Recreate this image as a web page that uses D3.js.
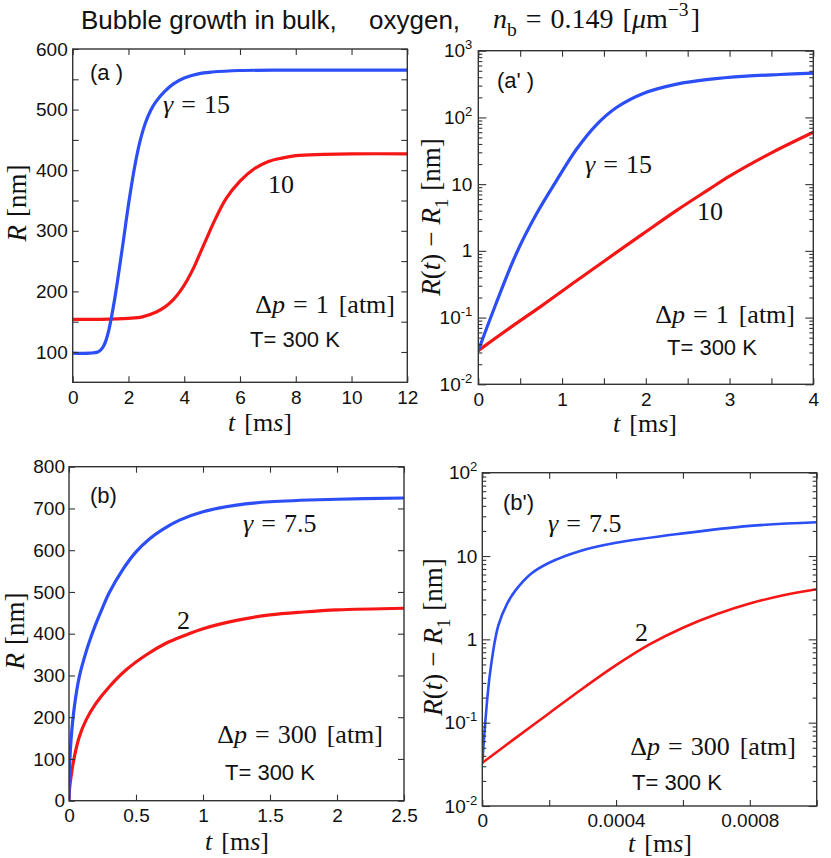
<!DOCTYPE html>
<html>
<head>
<meta charset="utf-8">
<script src="https://cdn.jsdelivr.net/npm/d3@7"></script>
<style>
  body { margin: 0; background: #fff; }
  svg { display: block; }
</style>
</head>
<body>
<svg id="fig" width="831" height="858"></svg>
<script>
const SANS = '"Liberation Sans", Arial, Helvetica, sans-serif';
const SERIF = '"Liberation Serif", "Times New Roman", serif';
const BLUE = "#2b4ef6";
const RED = "#f61616";
const FRAME = "#333";

// ---------- panel (a): R [nm] vs t [ms], dp = 1 atm ----------
const aBlueT = [0, 0.6, 0.9, 1.0, 1.1, 1.2, 1.3, 1.4, 1.5, 1.6, 1.8, 2.0, 2.2, 2.4, 2.6, 2.8, 3.0, 3.3, 3.6, 4.0, 4.5, 5.0, 6, 8, 12];
const aBlueR = [98, 98, 100, 103, 109, 120, 137, 160, 186, 215, 278, 343, 400, 445, 477, 499, 514, 530, 542, 552, 559, 562, 564.5, 565, 565];
const aRedT = [0, 1, 2, 2.5, 3.0, 3.3, 3.6, 3.85, 4.1, 4.35, 4.57, 4.8, 5.05, 5.5, 6.0, 6.5, 7.0, 7.5, 8, 9, 10, 12];
const aRedR = [154, 154, 155.5, 158, 166, 174, 186, 200, 218, 240, 263, 287, 313, 353, 382, 402, 414, 420, 424, 426, 427, 427];
const aXTicks = [0, 2, 4, 6, 8, 10, 12];
const aXText = ["0", "2", "4", "6", "8", "10", "12"];
const aYTicks = [100, 150, 200, 250, 300, 350, 400, 450, 500, 550, 600];
const aYText = ["100", "", "200", "", "300", "", "400", "", "500", "", "600"];

// ---------- panel (a'): R(t) - R1 [nm], log scale ----------
const apBlueT = [0, 0.21, 0.45, 0.69, 0.93, 1.17, 1.41, 1.65, 1.97, 2.37, 2.75, 3.2, 3.6, 4.0];
const apBlueV = [0.032, 0.16, 0.89, 3.5, 11.1, 33, 77.6, 141, 229, 316, 372, 415, 440, 462];
const apRedT = [0, 0.37, 0.76, 1.16, 1.56, 1.96, 2.36, 2.75, 3.0, 3.5, 4.0];
const apRedV = [0.032, 0.069, 0.151, 0.347, 0.79, 1.78, 3.98, 8.3, 13.2, 29.5, 60];
const apXTicks = [0, 0.5, 1, 1.5, 2, 2.5, 3, 3.5, 4];
const apXText = ["0", "", "1", "", "2", "", "3", "", "4"];
const apYTicks = [0.01, 0.1, 1, 10, 100, 1000];
const apYBase = ["10", "10", "1", "10", "10", "10"];
const apYExp = ["-2", "-1", "", "", "2", "3"];

// ---------- panel (b): R [nm] vs t [ms], dp = 300 atm ----------
const bBlueT = [0, 0.004, 0.015, 0.04, 0.077, 0.127, 0.164, 0.201, 0.25, 0.3, 0.4, 0.5, 0.6, 0.7, 0.825, 1.0, 1.25, 1.5, 2.0, 2.5];
const bBlueR = [0, 78, 145, 225, 297, 356, 392, 424, 462, 498, 553, 596, 627, 650, 672, 692, 708, 716, 722, 725];
const bRedT = [0, 0.004, 0.015, 0.04, 0.077, 0.127, 0.201, 0.301, 0.425, 0.575, 0.724, 0.873, 1.0, 1.25, 1.5, 1.75, 2.0, 2.5];
const bRedR = [0, 28, 57, 105, 153, 193, 233, 273, 313, 349, 377, 397, 412, 432, 445, 452, 457, 461];
const bXTicks = [0, 0.5, 1, 1.5, 2, 2.5];
const bXText = ["0", "0.5", "1", "1.5", "2", "2.5"];
const bYTicks = [0, 100, 200, 300, 400, 500, 600, 700, 800];
const bYText = ["0", "100", "200", "300", "400", "500", "600", "700", "800"];

// ---------- panel (b'): R(t) - R1 [nm], log scale ----------
const bpBlueT = [0, 0.000023, 0.000048, 0.000074, 0.0000987, 0.000144, 0.0002, 0.000293, 0.0004, 0.0006, 0.0008, 0.001];
const bpBlueV = [0.033, 0.39, 1.47, 2.67, 3.84, 6.05, 8.3, 11.5, 14.4, 18.7, 23, 25.4];
const bpRedT = [0, 0.000094, 0.0002, 0.000293, 0.0004, 0.0005, 0.0006, 0.0007, 0.0008, 0.0009, 0.001];
const bpRedV = [0.033, 0.063, 0.13, 0.245, 0.49, 0.87, 1.38, 2.0, 2.69, 3.39, 4.0];
const bpXTicks = [0, 0.0002, 0.0004, 0.0006, 0.0008, 0.001];
const bpXText = ["0", "", "0.0004", "", "0.0008", ""];
const bpYTicks = [0.01, 0.1, 1, 10, 100];
const bpYBase = ["10", "10", "1", "10", "10"];
const bpYExp = ["-2", "-1", "", "", "2"];

const svg = d3.select("#fig");

// text with italic parts, sub- and superscripts
function mathText(parent, x, y, size, parts, anchor) {
    const t = parent.append("text")
        .attr("x", x).attr("y", y)
        .attr("font-family", SERIF)
        .attr("font-size", size)
        .attr("text-anchor", anchor || "start")
        .attr("fill", "#111");
    let shift = 0;
    parts.forEach(p => {
        const s = t.append("tspan").text(p.t);
        if (p.i) s.attr("font-style", "italic");
        const target = p.sub ? size * 0.28 : p.sup ? -size * 0.42 : 0;
        const dy = target - shift;
        shift = target;
        if (dy) s.attr("dy", dy);
        if (p.sub || p.sup) s.attr("font-size", size * 0.7);
        if (p.dx) s.attr("dx", p.dx);
    });
    return t;
}

function sansText(parent, x, y, size, str) {
    parent.append("text")
        .attr("x", x).attr("y", y)
        .attr("font-family", SANS)
        .attr("font-size", size)
        .attr("fill", "#111")
        .text(str);
}

function series(ts, vs) {
    return ts.map((t, i) => [t, vs[i]]);
}

let clipId = 0;

function drawPanel(p) {
    const g = svg.append("g");
    const x = d3.scaleLinear().domain(p.xDomain).range([p.left, p.right]);
    const y = (p.log ? d3.scaleLog() : d3.scaleLinear()).domain(p.yDomain).range([p.bottom, p.top]);

    // curves
    const id = "clip" + (clipId++);
    g.append("clipPath").attr("id", id)
        .append("rect")
        .attr("x", p.left).attr("y", p.top - 2)
        .attr("width", p.right - p.left).attr("height", p.bottom - p.top + 2);
    const line = d3.line()
        .x(d => x(d[0]))
        .y(d => y(d[1]))
        .curve(d3.curveCatmullRom.alpha(0.5));
    p.lines.forEach(l => {
        g.append("path")
            .attr("clip-path", `url(#${id})`)
            .attr("d", line(l.data))
            .attr("fill", "none")
            .attr("stroke", l.color)
            .attr("stroke-width", p.lw)
            .attr("stroke-linecap", "round")
            .attr("stroke-linejoin", "round");
    });

    // ticks, all pointing inward
    const style = a => a.attr("font-family", SANS).attr("font-size", 19).attr("color", FRAME)
        .call(s => s.select(".domain").remove())
        .call(s => s.selectAll(".tick line").attr("stroke-width", 1.1));

    g.append("g").attr("transform", `translate(0,${p.bottom})`)
        .call(d3.axisBottom(x).tickValues(p.xTicks).tickSizeInner(-6).tickSizeOuter(0)
            .tickPadding(8).tickFormat((d, i) => p.xText[i]))
        .call(style)
        .call(s => s.selectAll(".tick text").attr("fill", "#111"));
    g.append("g").attr("transform", `translate(0,${p.top})`)
        .call(d3.axisTop(x).tickValues(p.xTicks).tickSizeInner(-6).tickSizeOuter(0).tickFormat(""))
        .call(style);

    const yl = g.append("g").attr("transform", `translate(${p.left},0)`)
        .call(d3.axisLeft(y).tickValues(p.yTicks).tickSizeInner(p.log ? -8 : -6).tickSizeOuter(0)
            .tickPadding(p.ypad).tickFormat((d, i) => p.log ? "" : p.yText[i]))
        .call(style);
    yl.selectAll(".tick text").attr("fill", "#111");
    g.append("g").attr("transform", `translate(${p.right},0)`)
        .call(d3.axisRight(y).tickValues(p.yTicks).tickSizeInner(p.log ? -8 : -6).tickSizeOuter(0).tickFormat(""))
        .call(style);

    if (p.log) {
        // 10^n labels
        yl.selectAll(".tick text").each(function (d, i) {
            const t = d3.select(this).text(p.yBase[i]);
            if (p.yExp[i]) {
                t.append("tspan").attr("dy", -8).attr("font-size", 13).text(p.yExp[i]);
            }
        });
        // minor ticks 2..9 per decade
        const minors = [];
        const e0 = Math.round(Math.log10(p.yDomain[0]));
        const e1 = Math.round(Math.log10(p.yDomain[1]));
        for (let e = e0; e < e1; e++) {
            for (let k = 2; k <= 9; k++) minors.push(k * Math.pow(10, e));
        }
        g.append("g").attr("transform", `translate(${p.left},0)`)
            .call(d3.axisLeft(y).tickValues(minors).tickSizeInner(-4).tickSizeOuter(0).tickFormat(""))
            .call(style);
        g.append("g").attr("transform", `translate(${p.right},0)`)
            .call(d3.axisRight(y).tickValues(minors).tickSizeInner(-4).tickSizeOuter(0).tickFormat(""))
            .call(style);
    }

    // frame
    g.append("rect")
        .attr("x", p.left).attr("y", p.top)
        .attr("width", p.right - p.left).attr("height", p.bottom - p.top)
        .attr("fill", "none").attr("stroke", FRAME).attr("stroke-width", 1.4);

    // axis titles
    mathText(g, p.xLab[0], p.xLab[1], 26,
        [{ t: "t", i: 1 }, { t: "[m", dx: 9 }, { t: "s", i: 1 }, { t: "]" }], "middle");
    mathText(g, 0, 0, 27, p.yParts, "middle")
        .attr("transform", `translate(${p.yLab[0]},${p.yLab[1]}) rotate(-90)`);
    return g;
}

// ---------- title ----------
sansText(svg, 81, 29, 26, "Bubble growth in bulk,");
sansText(svg, 369, 29, 26, "oxygen,");
mathText(svg, 493, 28, 28, [
    { t: "n", i: 1 }, { t: "b", sub: 1 }, { t: "=", dx: 9 }, { t: "0.149", dx: 9 },
    { t: "[", dx: 9 }, { t: "μ", i: 1 }, { t: "m" }, { t: "−3", sup: 1 }, { t: "]", dx: 2 }
]);

const rParts = [{ t: "R", i: 1 }, { t: "[nm]", dx: 8 }];
const drParts = [{ t: "R", i: 1 }, { t: "(" }, { t: "t", i: 1 }, { t: ")" }, { t: "−", dx: 7 },
    { t: "R", i: 1, dx: 7 }, { t: "1", sub: 1 }, { t: "[nm]", dx: 8 }];

// (a)
const ga = drawPanel({
    left: 72.7, right: 407.3, top: 49, bottom: 382.3,
    xDomain: [0, 12], yDomain: [50, 600], log: false,
    xTicks: aXTicks, xText: aXText, yTicks: aYTicks, yText: aYText, ypad: 5,
    lw: 3.2,
    lines: [{ data: series(aRedT, aRedR), color: RED }, { data: series(aBlueT, aBlueR), color: BLUE }],
    xLab: [260, 431], yLab: [26, 203], yParts: rParts
});
sansText(ga, 90, 80, 22, "(a )");
mathText(ga, 163, 113, 26, [{ t: "γ", i: 1 }, { t: "=", dx: 8 }, { t: "15", dx: 8 }]);
mathText(ga, 268, 193, 26, [{ t: "10" }]);
mathText(ga, 395, 313, 26, [{ t: "Δ" }, { t: "p", i: 1 }, { t: "=", dx: 8 }, { t: "1", dx: 8 }, { t: "[atm]", dx: 10 }], "end");
sansText(ga, 250, 347, 22, "T= 300 K");

// (a')
const gap = drawPanel({
    left: 478.3, right: 813.3, top: 50.7, bottom: 384.3,
    xDomain: [0, 4], yDomain: [0.01, 1000], log: true,
    xTicks: apXTicks, xText: apXText, yTicks: apYTicks, yBase: apYBase, yExp: apYExp, ypad: 6,
    lw: 3.2,
    lines: [{ data: series(apRedT, apRedV), color: RED }, { data: series(apBlueT, apBlueV), color: BLUE }],
    xLab: [645, 432], yLab: [440, 217], yParts: drParts
});
sansText(gap, 497, 88, 22, "(a' )");
mathText(gap, 585, 173, 26, [{ t: "γ", i: 1 }, { t: "=", dx: 8 }, { t: "15", dx: 8 }]);
mathText(gap, 697, 220, 26, [{ t: "10" }]);
mathText(gap, 795, 323, 26, [{ t: "Δ" }, { t: "p", i: 1 }, { t: "=", dx: 8 }, { t: "1", dx: 8 }, { t: "[atm]", dx: 10 }], "end");
sansText(gap, 667, 355, 22, "T= 300 K");

// (b)
const gb = drawPanel({
    left: 69, right: 404, top: 466.7, bottom: 800.7,
    xDomain: [0, 2.5], yDomain: [0, 800], log: false,
    xTicks: bXTicks, xText: bXText, yTicks: bYTicks, yText: bYText, ypad: 4,
    lw: 3.2,
    lines: [{ data: series(bRedT, bRedR), color: RED }, { data: series(bBlueT, bBlueR), color: BLUE }],
    xLab: [237, 850], yLab: [24, 631], yParts: rParts
});
sansText(gb, 90, 503, 22, "(b)");
mathText(gb, 243, 532, 26, [{ t: "γ", i: 1 }, { t: "=", dx: 8 }, { t: "7.5", dx: 8 }]);
mathText(gb, 177, 629, 26, [{ t: "2" }]);
mathText(gb, 383, 743, 26, [{ t: "Δ" }, { t: "p", i: 1 }, { t: "=", dx: 8 }, { t: "300", dx: 8 }, { t: "[atm]", dx: 10 }], "end");
sansText(gb, 225, 780, 22, "T= 300 K");

// (b')
const gbp = drawPanel({
    left: 482.3, right: 816.7, top: 472.7, bottom: 806,
    xDomain: [0, 0.001], yDomain: [0.01, 100], log: true,
    xTicks: bpXTicks, xText: bpXText, yTicks: bpYTicks, yBase: bpYBase, yExp: bpYExp, ypad: 5,
    lw: 2.6,
    lines: [{ data: series(bpRedT, bpRedV), color: RED }, { data: series(bpBlueT, bpBlueV), color: BLUE }],
    xLab: [660, 852], yLab: [442, 637], yParts: drParts
});
sansText(gbp, 503, 510, 22, "(b')");
mathText(gbp, 548, 532, 26, [{ t: "γ", i: 1 }, { t: "=", dx: 8 }, { t: "7.5", dx: 8 }]);
mathText(gbp, 635, 641, 26, [{ t: "2" }]);
mathText(gbp, 796, 755, 26, [{ t: "Δ" }, { t: "p", i: 1 }, { t: "=", dx: 8 }, { t: "300", dx: 8 }, { t: "[atm]", dx: 10 }], "end");
sansText(gbp, 632, 790, 22, "T= 300 K");
</script>
</body>
</html>
